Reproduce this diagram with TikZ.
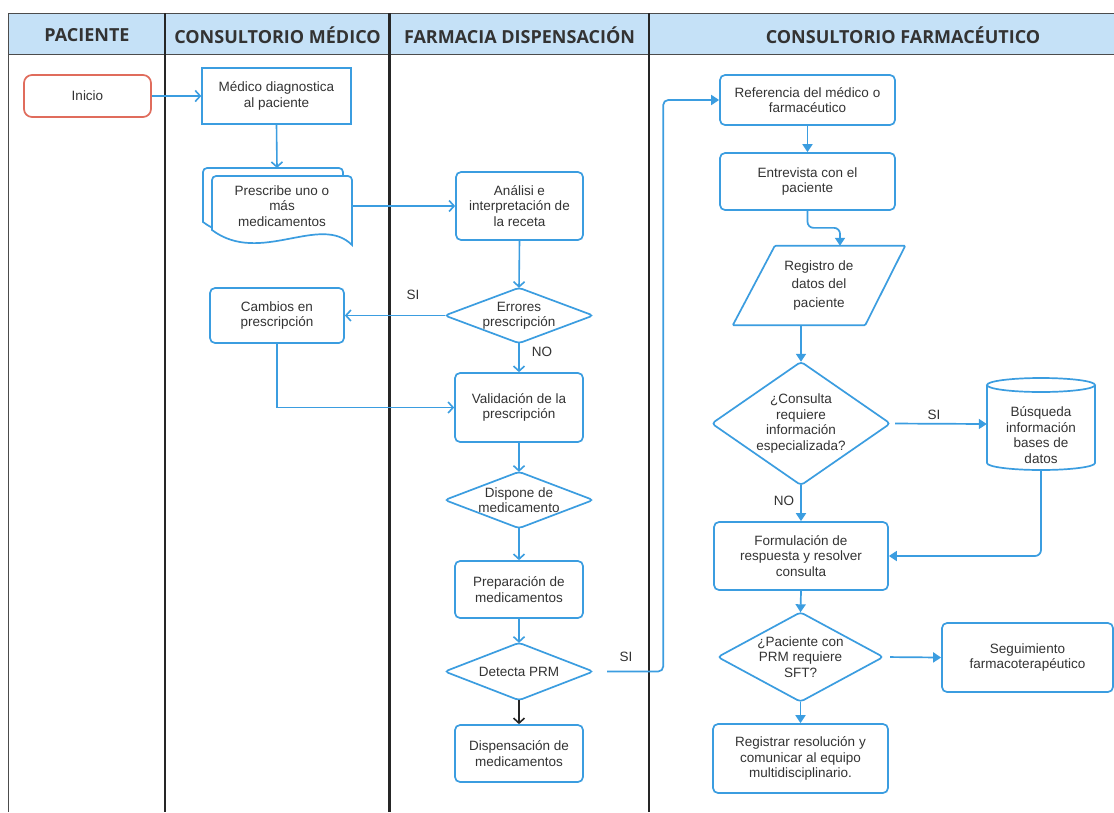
\documentclass[tikz,border=0pt]{standalone}
\usepackage{fontspec}
\setmainfont{Liberation Sans}
\newfontfamily\headfont{Open Sans}
\usetikzlibrary{arrows.meta,calc}
\definecolor{lblue}{RGB}{59,157,224}
\definecolor{hfill}{RGB}{197,225,247}
\definecolor{txt}{RGB}{51,51,51}
\definecolor{ired}{RGB}{224,108,92}
\begin{document}
\begin{tikzpicture}[x=1pt,y=-1pt,
  every node/.style={font=\fontsize{13.5}{15.5}\selectfont, text=txt},
  rbox/.style={draw=lblue,line width=1.7pt,rounded corners=5pt,align=center,inner sep=0pt},
  sbox/.style={draw=lblue,line width=1.7pt,align=center,inner sep=0pt},
  tbox/.style={draw=none,align=center,inner sep=0pt},
  shp/.style={draw=lblue,line width=1.7pt,rounded corners=3.5pt},
  flow/.style={draw=lblue,line width=1.6pt,-{Straight Barb[length=5pt,width=11pt]}},
  flowf/.style={draw=lblue,line width=1.7pt,-{Triangle[length=8pt,width=10pt]}},
  lanediv/.style={line width=2.6pt,draw=black!85},
  frame/.style={line width=0.9pt,draw=black!70},
  hd/.style={font=\headfont\bfseries\fontsize{18}{21}\selectfont,text=txt},
  lbl/.style={font=\fontsize{13.5}{15.5}\selectfont,text=txt}]
\useasboundingbox (0,0) rectangle (1114,812);
\fill[white] (0,0) rectangle (1114,812);
\clip (0,0) rectangle (1114,812);
% lanes
\fill[hfill] (8,13) rectangle (1160,54);
\draw[frame] (8,13) -- (1160,13);
\draw[frame] (8,54) -- (1160,54);
\draw[frame] (8,13) -- (8,812);
\draw[lanediv] (165,13) -- (165,812);
\draw[lanediv] (389.5,13) -- (389.5,812);
\draw[lanediv] (649,13) -- (649,812);
\node[hd] (h1) at (87,35) {PACIENTE};
\node[hd] (h2) at (277.5,35) {CONSULTORIO MÉDICO};
\node[hd] (h3) at (519.5,35) {FARMACIA DISPENSACIÓN};
\node[hd] (h4) at (903,35) {CONSULTORIO FARMACÉUTICO};
% Paciente / Consultorio medico
\node[rbox,draw=ired,rounded corners=8pt,minimum width=127pt,minimum height=42pt] (ini) at (87.5,96) {Inicio};
\node[sbox,line width=1.4pt,minimum width=149pt,minimum height=56pt] (med) at (276.5,96) {Médico diagnostica\\al paciente};
% multi-document
\draw[shp,fill=white] (203,222) [rounded corners=4pt] -- (203,168) -- (343,168) [sharp corners] -- (343,237) .. controls (311,205) and (251,258) .. (203,222) -- cycle;
\draw[shp,fill=white] (212,230) [rounded corners=4pt] -- (212,176) -- (352,176) [sharp corners] -- (352,245) .. controls (320,213) and (260,266) .. (212,230) -- cycle;
\node[tbox,minimum width=140pt,minimum height=60pt] (presc) at (282,206) {Prescribe uno o\\más\\medicamentos};
\coordinate (backtop) at (277,168);
\node[rbox,minimum width=134pt,minimum height=55pt] (cam) at (277,315.5) {Cambios en\\prescripción};
% Farmacia
\node[rbox,minimum width=127pt,minimum height=68pt] (ana) at (519.5,206) {Análisi e\\interpretación de\\la receta};
\node[tbox,minimum width=148pt,minimum height=55pt] (err) at (519,315.5) {Errores\\prescripción};
\draw[shp] (err.north) -- (err.east) -- (err.south) -- (err.west) -- cycle;
\node[rbox,minimum width=128pt,minimum height=69pt] (val) at (519,407.5) {Validación de la\\prescripción};
\node[tbox,minimum width=148pt,minimum height=56pt] (disp) at (519,500) {Dispone de\\medicamento};
\draw[shp] (disp.north) -- (disp.east) -- (disp.south) -- (disp.west) -- cycle;
\node[rbox,minimum width=128pt,minimum height=57pt] (prep) at (519,589.5) {Preparación de\\medicamentos};
\node[tbox,minimum width=148pt,minimum height=57pt] (det) at (519,671.5) {Detecta PRM};
\draw[shp] (det.north) -- (det.east) -- (det.south) -- (det.west) -- cycle;
\node[rbox,minimum width=128pt,minimum height=57pt] (dispen) at (519,753.5) {Dispensación de\\medicamentos};
% Consultorio farmaceutico
\node[rbox,minimum width=175pt,minimum height=50pt] (ref) at (807.5,100) {Referencia del médico o\\farmacéutico};
\node[rbox,minimum width=175pt,minimum height=57pt] (ent) at (807.5,181.5) {Entrevista con el\\paciente};
\node[tbox,minimum width=172pt,minimum height=79pt] (reg) at (819,285.5) {Registro de\\[3pt]datos del\\[3pt]paciente};
\draw[shp,rounded corners=1pt] ($(reg.north west)+(42,0)$) -- (reg.north east) -- ($(reg.south east)+(-40,0)$) -- (reg.south west) -- cycle;
\node[tbox,minimum width=178pt,minimum height=123pt] (cons) at (801,423.5) {¿Consulta\\requiere\\información\\especializada?};
\draw[shp] (cons.north) -- (cons.east) -- (cons.south) -- (cons.west) -- cycle;
\node[tbox,minimum width=108pt,minimum height=92pt] (bus) at (1041,424) {};
\draw[shp,rounded corners=0pt] (987,385) -- (987,463) arc[start angle=180,end angle=360,x radius=54pt,y radius=7pt] -- (1095,385);
\draw[shp,rounded corners=0pt] (1041,385) ellipse[x radius=54pt,y radius=7pt];
\node[tbox] (bustxt) at (1041,435) {Búsqueda\\información\\bases de\\datos};
\node[rbox,minimum width=174pt,minimum height=68pt] (form) at (801,556) {Formulación de\\respuesta y resolver\\consulta};
\node[tbox,minimum width=165pt,minimum height=89pt] (pac) at (800.5,657) {¿Paciente con\\PRM requiere\\SFT?};
\draw[shp] (pac.north) -- (pac.east) -- (pac.south) -- (pac.west) -- cycle;
\node[rbox,minimum width=171pt,minimum height=69pt] (seg) at (1027.5,657.5) {Seguimiento\\farmacoterapéutico};
\node[rbox,minimum width=175pt,minimum height=69pt] (regi) at (800.5,758.5) {Registrar resolución y\\comunicar al equipo\\multidisciplinario.};
% connectors
\draw[flow] (ini) -- (med);
\draw[flow] (med.south) -- (backtop);
\draw[flow] (presc.east) -- (ana.west);
\draw[flow] (ana.south) -- (err.north);
\draw[flow] (err.west) -- (cam.east);
\node[lbl] (lsi1) at (413,295) {SI};
\draw[flow] (err.south) -- (val.north);
\node[lbl] (lno1) at (542,352) {NO};
\draw[flow] (cam.south) |- (val.west);
\draw[flow] (val.south) -- (disp.north);
\draw[flow] (disp.south) -- (prep.north);
\draw[flow] (prep.south) -- (det.north);
\draw[flow,draw=black!85] (det.south) -- (dispen.north);
\draw[flowf,rounded corners=5pt,shorten <=14pt] (det.east) -- ++(70,0) |- (ref.west);
\node[lbl] (lsi2) at (626,657) {SI};
\draw[flowf] (ref.south) -- (ent.north);
\draw[flowf,rounded corners=6pt] (ent.south) -- ++(0,17) -| ($(reg.north)+(21,0)$);
\draw[flowf] (cons.north |- reg.south) -- (cons.north);
\draw[flowf,shorten <=5pt] (cons.east) -- (bus.west);
\node[lbl] (lsi3) at (934,415) {SI};
\draw[flowf] (cons.south) -- (form.north);
\node[lbl] (lno2) at (784,501) {NO};
\draw[flowf,rounded corners=6pt] (bus.south) |- (form.east);
\draw[flowf] (form.south) -- (pac.north);
\draw[flowf,shorten <=7pt] (pac.east) -- (seg.west);
\draw[flowf] (pac.south) -- (regi.north);
\end{tikzpicture}
\end{document}
